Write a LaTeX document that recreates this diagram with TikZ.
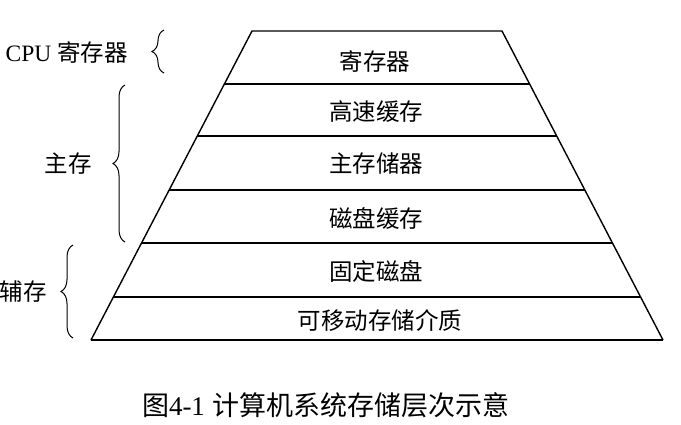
\documentclass[tikz,border=0pt]{standalone}
\usepackage{fontspec}
\setmainfont{Liberation Serif}
\newfontfamily\cjk{Noto Sans CJK SC}
\usetikzlibrary{decorations.pathreplacing,calc}
\begin{document}
\begin{tikzpicture}[x=1pt,y=-1pt,
  layertext/.style={font=\fontsize{23.5}{26}\selectfont\cjk, inner sep=0pt},
  sidetext/.style={font=\fontsize{23.5}{26}\selectfont, inner sep=0pt},
  bracestyle/.style={decorate, decoration={brace, amplitude=12pt}, line width=1pt},
  edge/.style={line width=1.4pt}]
\useasboundingbox (0,0) rectangle (681,424);
% pyramid corners
\coordinate (tl) at (252,31);
\coordinate (tr) at (502,31);
\coordinate (bl) at (91,340);
\coordinate (br) at (663,340);
\foreach \y/\n in {84/a,136/b,190/c,243/d,297/e}{
  \coordinate (l\n) at ($(tl)!{(\y-31)/309}!(bl)$);
  \coordinate (r\n) at ($(tr)!{(\y-31)/309}!(br)$);
}
\draw[edge] (bl) -- (tl) -- (tr) -- (br);
\draw[line width=2pt] (bl) -- (br);
\foreach \n in {a,b,c,d,e}{ \draw[edge] (l\n) -- (r\n); }
% layer texts
\node[layertext] (t1) at (375,61) {寄存器};
\node[layertext] (t2) at (376,112) {高速缓存};
\node[layertext] (t3) at (376,164) {主存储器};
\node[layertext] (t4) at (376,218) {磁盘缓存};
\node[layertext] (t5) at (376,271) {固定磁盘};
\node[layertext] (t6) at (380,321) {可移动存储介质};
% side labels
\node[sidetext, anchor=east] (cpu) at (128,52) {CPU {\cjk 寄存器}};
\node[sidetext, anchor=east] (zc) at (92,164) {\cjk 主存};
\node[sidetext, anchor=east] (fc) at (47,292) {\cjk 辅存};
% braces
\coordinate (b1b) at (164,73); \coordinate (b1t) at (164,30);
\coordinate (b2b) at (125,242); \coordinate (b2t) at (125,85);
\coordinate (b3b) at (73,338); \coordinate (b3t) at (73,245);
\draw[bracestyle] (b1b) -- (b1t);
\draw[bracestyle] (b2b) -- (b2t);
\draw[bracestyle] (b3b) -- (b3t);
% caption
\node[font=\fontsize{27}{30}\selectfont, inner sep=0pt] (cap) at (326,405) {{\cjk 图}4-1\hspace{8pt}{\cjk 计算机系统存储层次示意}};
\end{tikzpicture}
\end{document}
